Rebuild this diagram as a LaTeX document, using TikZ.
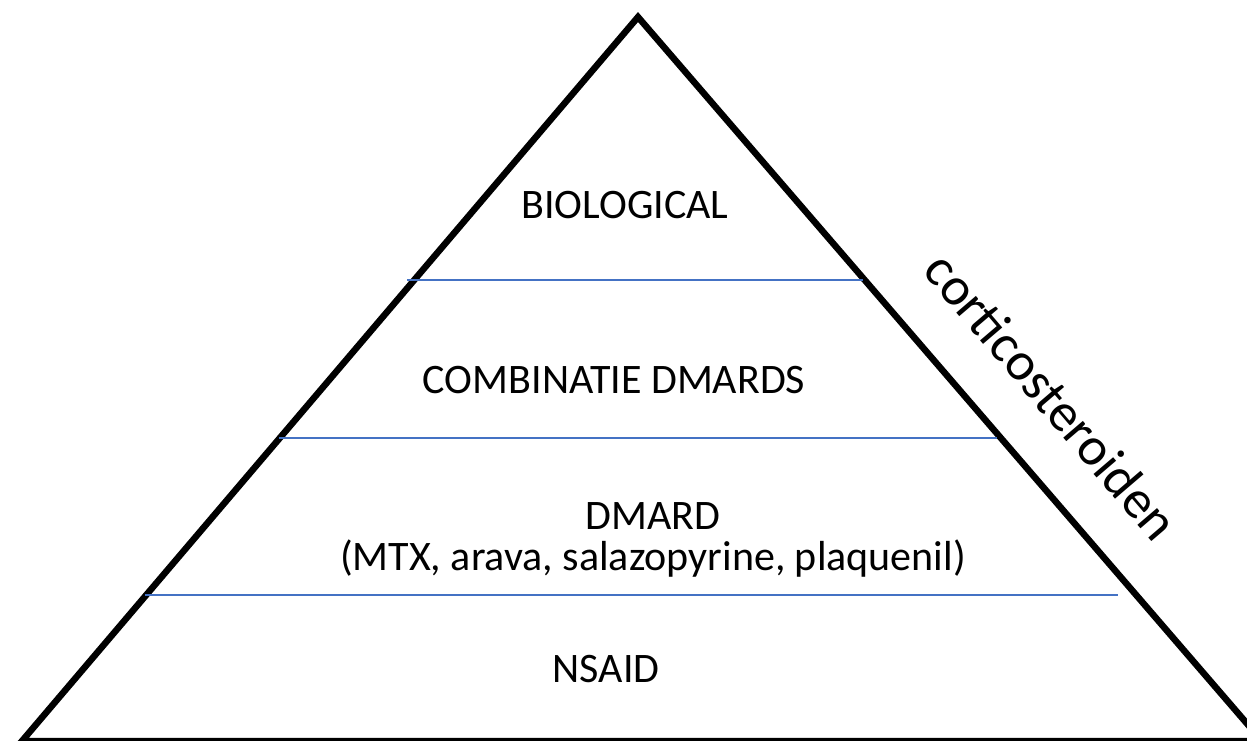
\documentclass[tikz,border=0pt]{standalone}
\usepackage{fontspec}
\setmainfont{Carlito}
\definecolor{tierblue}{HTML}{4472C4}

\begin{document}
\begin{tikzpicture}[
  x=1pt, y=-1pt,
  tier/.style={font=\fontsize{42}{41}\selectfont, align=center, inner sep=0pt, anchor=base},
  side/.style={font=\fontsize{54}{60}\selectfont, inner sep=0pt, rotate=-49.5},
  sep/.style={draw=tierblue, line width=1.4pt},
  edge/.style={draw, line width=6.5pt, line join=miter}
]
\useasboundingbox (0,0) rectangle (1247,740);
\coordinate (top) at (638,17);
\coordinate (bl)  at (22,741);
\coordinate (br)  at (1262,741);
\draw[edge] (top) -- (br) -- (bl) -- cycle;
\draw[sep] (407,280) -- (863,280);
\draw[sep] (279,438) -- (997,438);
\draw[sep] (145,595) -- (1118,595);
\node[tier] (biol)  at (625,218) {BIOLOGICAL};
\node[tier] (combi) at (614,393) {COMBINATIE DMARDS};
\node[tier] (dmard) at (653,570) {DMARD\\(MTX, arava, salazopyrine, plaquenil)};
\node[tier] (nsaid) at (606,682) {NSAID};
\node[side] (cort)  at (1052,396) {corticosteroiden};
\end{tikzpicture}
\end{document}
